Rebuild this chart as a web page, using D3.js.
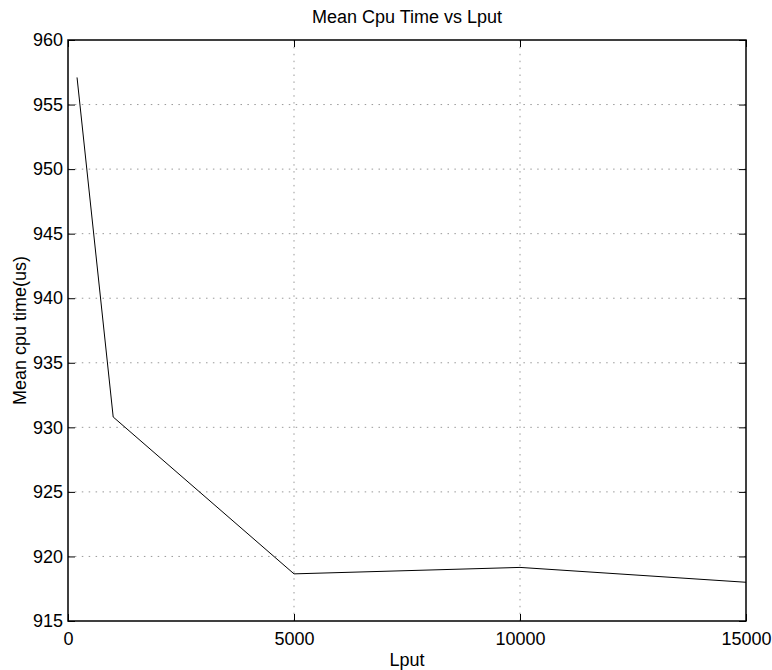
<!DOCTYPE html>
<html>
<head>
<meta charset="utf-8">
<script src="https://cdn.jsdelivr.net/npm/d3@7"></script>
<style>
  body { margin: 0; background: #fff; }
  text { font-family: "Liberation Sans", Arial, sans-serif; fill: #000; }
</style>
</head>
<body>
<div id="chart"></div>
<script>
// data
var lput = [200, 1000, 5000, 10000, 15000];
var cpuTime = [957.1, 930.8, 918.65, 919.15, 918.0];
var xTicks = [0, 5000, 10000, 15000];
var yTicks = [915, 920, 925, 930, 935, 940, 945, 950, 955, 960];

var svgWidth = 772, svgHeight = 670;
var margin = { top: 40, right: 26, bottom: 49, left: 68 };
var width = svgWidth - margin.left - margin.right;
var height = svgHeight - margin.top - margin.bottom;

var svg = d3.select("#chart").append("svg")
  .attr("width", svgWidth)
  .attr("height", svgHeight);

var chartGroup = svg.append("g")
  .attr("transform", `translate(${margin.left}, ${margin.top})`);

var xScale = d3.scaleLinear().domain([0, 15000]).range([0, width]);
var yScale = d3.scaleLinear().domain([915, 960]).range([height, 0]);

// dotted grid
chartGroup.selectAll(".hgrid")
  .data(yTicks.slice(1, -1))
  .enter().append("line")
  .attr("x1", 0).attr("x2", width)
  .attr("y1", d => yScale(d)).attr("y2", d => yScale(d))
  .attr("stroke", "#999").attr("stroke-width", 1)
  .attr("stroke-dasharray", "1.5,5.4");

chartGroup.selectAll(".vgrid")
  .data(xTicks.slice(1, -1))
  .enter().append("line")
  .attr("x1", d => xScale(d)).attr("x2", d => xScale(d))
  .attr("y1", 0).attr("y2", height)
  .attr("stroke", "#999").attr("stroke-width", 1)
  .attr("stroke-dasharray", "1.5,5.4");

// axes, ticks pointing inward, labels outside
var tickLen = 7;
var bottomAxis = d3.axisBottom(xScale).tickValues(xTicks).tickFormat(d3.format("d"))
  .tickSize(-tickLen).tickPadding(11);
var leftAxis = d3.axisLeft(yScale).tickValues(yTicks).tickSize(-tickLen).tickPadding(5);
var topAxis = d3.axisTop(xScale).tickValues(xTicks).tickSize(-tickLen).tickFormat("");
var rightAxis = d3.axisRight(yScale).tickValues(yTicks).tickSize(-tickLen).tickFormat("");

function styleAxis(g) {
  g.select(".domain").remove();
  g.selectAll("line").attr("stroke", "#000");
  g.selectAll("text").attr("font-size", "18px").attr("font-family", "Liberation Sans, Arial, sans-serif").attr("fill", "#000");
}

chartGroup.append("g").attr("transform", `translate(0, ${height})`).call(bottomAxis).call(styleAxis);
chartGroup.append("g").call(leftAxis).call(styleAxis);
chartGroup.append("g").call(topAxis).call(styleAxis);
chartGroup.append("g").attr("transform", `translate(${width}, 0)`).call(rightAxis).call(styleAxis);

// frame
chartGroup.append("rect")
  .attr("x", 0).attr("y", 0)
  .attr("width", width).attr("height", height)
  .attr("fill", "none").attr("stroke", "#000").attr("stroke-width", 1.5);

// the line
var points = lput.map((x, i) => [x, cpuTime[i]]);
var line = d3.line()
  .x(d => xScale(d[0]))
  .y(d => yScale(d[1]));

chartGroup.append("path")
  .datum(points)
  .attr("d", line)
  .attr("fill", "none")
  .attr("stroke", "#000")
  .attr("stroke-width", 1);

// title and axis labels
chartGroup.append("text")
  .attr("x", width / 2).attr("y", -17)
  .attr("text-anchor", "middle")
  .attr("font-size", "18px")
  .text("Mean Cpu Time vs Lput");

chartGroup.append("text")
  .attr("x", width / 2).attr("y", height + 45)
  .attr("text-anchor", "middle")
  .attr("font-size", "18px")
  .text("Lput");

chartGroup.append("text")
  .attr("transform", "rotate(-90)")
  .attr("x", -height / 2).attr("y", -42)
  .attr("text-anchor", "middle")
  .attr("font-size", "18px")
  .text("Mean cpu time(us)");
</script>
</body>
</html>
